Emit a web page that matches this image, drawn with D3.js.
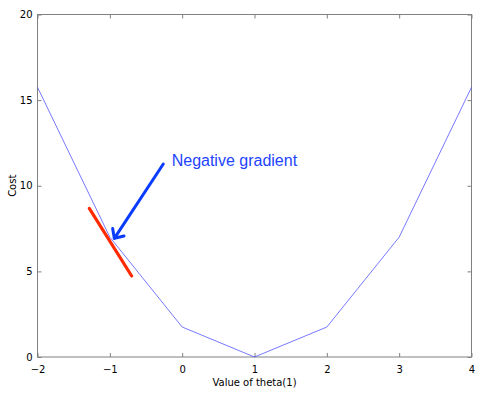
<!DOCTYPE html>
<html><head><meta charset="utf-8">
<script src="https://cdn.jsdelivr.net/npm/d3@7"></script>
<style>body{margin:0;background:#fff}svg{display:block}</style>
</head><body>
<script>
const thetaValues = [-2, -1, 0, 1, 2, 3, 4];
const costValues = [15.75, 7, 1.75, 0, 1.75, 7, 15.75];
const xTicks = [-2, -1, 0, 1, 2, 3, 4];
const yTicks = [0, 5, 10, 15, 20];
const tangentX = [-1.284, -0.698];
const tangentY = [8.68, 4.73];
const arrowX = [-0.261, -0.938];
const arrowY = [11.27, 6.93];
const annotationText = "Negative gradient";
const annotationPos = [-0.145, 11.15];

const W = 503, H = 396;
const m = {left: 37.5, right: 471.5, top: 14.5, bottom: 357};
const svg = d3.select("body").append("svg").attr("width", W).attr("height", H);
const x = d3.scaleLinear().domain([-2, 4]).range([m.left, m.right]);
const y = d3.scaleLinear().domain([0, 20]).range([m.bottom, m.top]);

const font = "DejaVu Sans, Verdana, sans-serif";
const frame = "#808080";

function styleAxis(g){
  g.select(".domain").remove();
  g.selectAll(".tick line").attr("stroke", frame);
  g.selectAll(".tick text").attr("font-family", font).attr("font-size", 10).attr("fill", "#000");
}
// bottom axis with labels
svg.append("g").attr("transform", `translate(0,${m.bottom})`)
  .call(d3.axisBottom(x).tickValues(xTicks).tickSize(-4).tickPadding(9).tickFormat(d3.format("d")))
  .call(styleAxis);
svg.append("g").attr("transform", `translate(0,${m.top})`)
  .call(d3.axisTop(x).tickValues(xTicks).tickSize(-4).tickFormat(""))
  .call(styleAxis);
svg.append("g").attr("transform", `translate(${m.left},0)`)
  .call(d3.axisLeft(y).tickValues(yTicks).tickSize(-4).tickPadding(5).tickFormat(d3.format("d")))
  .call(styleAxis);
svg.append("g").attr("transform", `translate(${m.right},0)`)
  .call(d3.axisRight(y).tickValues(yTicks).tickSize(-4).tickFormat(""))
  .call(styleAxis);

svg.append("rect").attr("x", m.left).attr("y", m.top)
  .attr("width", m.right - m.left).attr("height", m.bottom - m.top)
  .attr("fill", "none").attr("stroke", frame).attr("stroke-width", 1);

// cost curve
const line = d3.line().x((d,i)=>x(thetaValues[i])).y(d=>y(d));
svg.append("path").datum(costValues).attr("d", line)
  .attr("fill", "none").attr("stroke", "#5555ff").attr("stroke-width", 0.8);

// tangent
svg.append("line")
  .attr("x1", x(tangentX[0])).attr("y1", y(tangentY[0]))
  .attr("x2", x(tangentX[1])).attr("y2", y(tangentY[1]))
  .attr("stroke", "#ff2a00").attr("stroke-width", 3.2).attr("stroke-linecap", "round");

// arrow
const ax0 = x(arrowX[0]), ay0 = y(arrowY[0]), ax1 = x(arrowX[1]), ay1 = y(arrowY[1]);
svg.append("line").attr("x1", ax0).attr("y1", ay0).attr("x2", ax1).attr("y2", ay1)
  .attr("stroke", "#0a3cff").attr("stroke-width", 3).attr("stroke-linecap", "round");
const ang = Math.atan2(ay1 - ay0, ax1 - ax0);
const hl = 10, spread = 0.75;
const barbs = [ang + Math.PI - spread, ang + Math.PI + spread];
svg.append("path")
  .attr("d", `M${ax1 + hl*Math.cos(barbs[0])},${ay1 + hl*Math.sin(barbs[0])}L${ax1},${ay1}L${ax1 + hl*Math.cos(barbs[1])},${ay1 + hl*Math.sin(barbs[1])}`)
  .attr("fill", "none").attr("stroke", "#0a3cff").attr("stroke-width", 3).attr("stroke-linecap", "round").attr("stroke-linejoin", "round");

svg.append("text").attr("x", x(annotationPos[0])).attr("y", y(annotationPos[1]))
  .attr("font-family", "Liberation Sans, Arial, sans-serif").attr("font-size", 16)
  .attr("fill", "#2244ff").text(annotationText);

// axis titles
svg.append("text").attr("x", (m.left + m.right)/2).attr("y", 386)
  .attr("text-anchor", "middle").attr("font-family", font).attr("font-size", 10)
  .text("Value of theta(1)");
svg.append("text").attr("transform", `translate(16,${(m.top + m.bottom)/2}) rotate(-90)`)
  .attr("text-anchor", "middle").attr("font-family", font).attr("font-size", 10)
  .text("Cost");
</script>
</body></html>
